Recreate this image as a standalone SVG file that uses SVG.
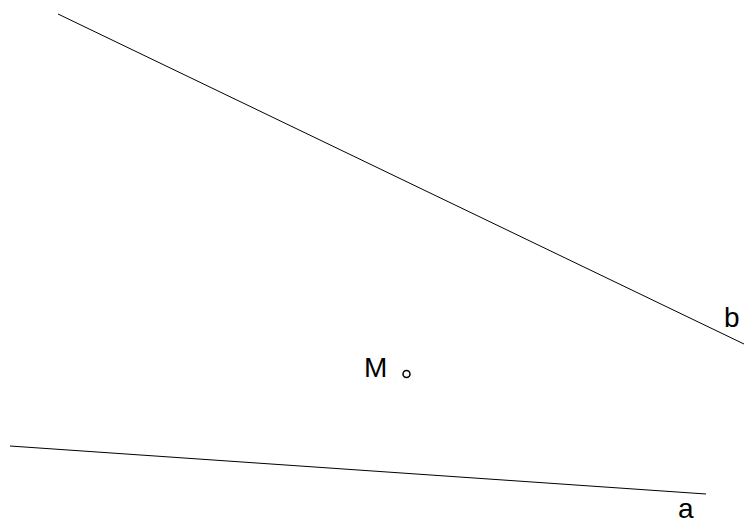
<svg xmlns="http://www.w3.org/2000/svg" width="744" height="525" viewBox="0 0 744 525">
<style>
.ln{stroke:#000;stroke-width:1;fill:none}
.lbl{font-family:"Liberation Sans",Arial,sans-serif;font-size:28px;fill:#000}
</style>
<rect width="744" height="525" fill="#fff"/>
<g id="lines">
<line class="ln" x1="58" y1="14" x2="744" y2="344"/>
<line class="ln" x1="10" y1="446" x2="706" y2="494"/>
</g>
<g id="label-b"><text class="lbl" x="724" y="327">b</text></g>
<g id="label-a"><text class="lbl" x="678" y="518">a</text></g>
<g id="point-M">
<text class="lbl" x="364" y="377">M</text>
<circle cx="406.5" cy="374" r="3.5" fill="#fff" stroke="#000" stroke-width="1.5"/>
</g>
</svg>
